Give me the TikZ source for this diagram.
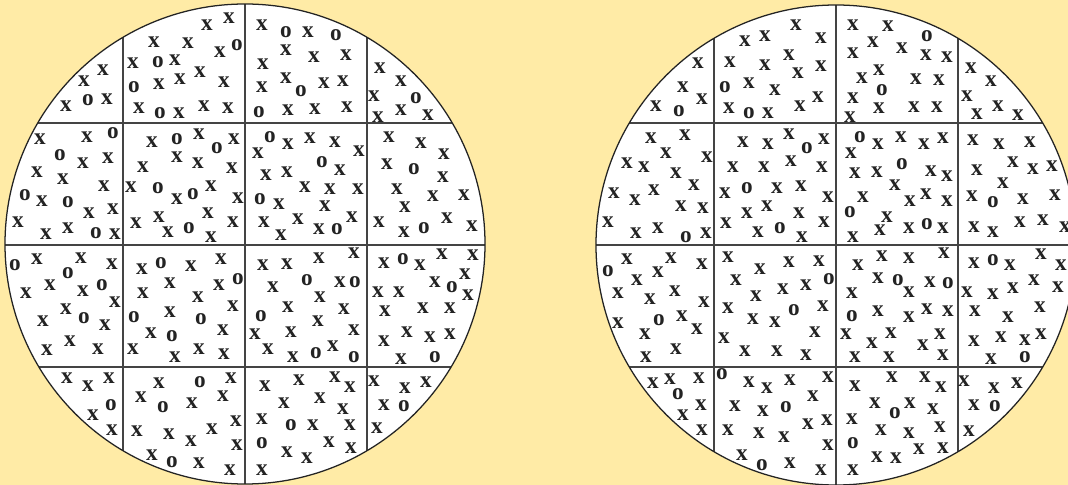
\documentclass[tikz,border=0pt]{standalone}
\usepackage{fontspec}
\setmainfont{Liberation Serif}
\usepackage{xcolor}

\definecolor{paper}{HTML}{FFEBA6}
\definecolor{ink}{HTML}{232323}

\begin{document}
\begin{tikzpicture}[
    x=0.025cm, y=-0.025cm,
    dish/.style={draw=ink, line width=0.9pt},
    gridline/.style={draw=ink!85, line width=1.1pt},
    sym/.style={inner sep=0pt, text=ink, font=\fontsize{16.5}{16.5}\selectfont\bfseries},
]
\fill[paper] (0,0) rectangle (1068,485);
\useasboundingbox (0,0) rectangle (1068,485);

\coordinate (lc) at (245,244);
\coordinate (rc) at (836,245);

% dishes with their 4x4 grids
\foreach \c/\cx in {lc/245, rc/836} {
    \fill[white] (\c) circle[radius=240];
    \begin{scope}
        \clip (\c) circle[radius=240];
        \foreach \d in {-122,0,122} {
            \draw[gridline] (\cx+\d,0) -- (\cx+\d,485);
            \draw[gridline] (\cx-250,245+\d) -- (\cx+250,245+\d);
        }
    \end{scope}
    \draw[dish] (\c) circle[radius=240];
}

% left dish
\foreach \px/\py/\t [count=\k] in {
    103/70/x, 84/81/x, 66/106/x, 88/100/o, 107/99/x,
    207/25/x, 229/18/x, 154/42/x, 188/43/x, 220/52/x, 237/45/o, 133/63/x, 158/62/o, 175/60/x, 200/72/x, 134/87/o, 159/84/x, 180/79/x, 224/82/x, 139/108/x, 160/113/o, 179/113/x, 204/106/x, 228/108/x,
    262/25/x, 286/32/o, 308/32/x, 336/35/o, 286/50/x, 314/57/x, 346/55/x, 263/64/x, 286/78/x, 301/91/o, 324/83/x, 343/81/x, 262/87/x, 259/112/o, 288/110/x, 315/109/x, 347/107/x,
    380/68/x, 401/81/x, 374/96/x, 416/98/o, 401/110/x, 378/117/x, 428/115/x,
    40/139/x, 87/137/x, 113/133/o, 60/155/o, 83/163/x, 108/158/x, 37/172/x, 63/179/x, 104/186/x, 25/195/o, 42/201/x, 68/202/o, 89/213/x, 113/209/x, 18/222/x, 46/234/x, 68/228/x, 96/233/o, 115/234/x,
    152/142/x, 177/139/o, 199/134/x, 217/148/o, 234/139/x, 143/167/x, 177/157/x, 198/163/x, 232/168/x, 131/187/x, 158/188/o, 177/199/x, 193/194/o, 211/186/x, 238/198/x, 136/223/x, 159/217/x, 168/232/x, 189/228/o, 208/213/x, 211/237/x, 233/222/x,
    270/137/o, 258/153/x, 288/144/x, 310/138/x, 335/142/x, 359/151/x, 322/162/o, 340/170/x, 266/175/x, 287/172/x, 305/187/x, 330/189/x, 358/189/x, 260/199/o, 279/204/x, 325/206/x, 264/222/x, 281/235/x, 298/219/x, 319/229/x, 337/229/o, 352/217/x,
    389/137/x, 421/143/x, 444/154/x, 387/164/x, 414/169/o, 443/177/x, 397/189/x, 433/196/x, 464/195/x, 405/207/x, 379/222/x, 404/232/x, 424/228/o, 447/218/x, 472/226/x,
    15/265/o, 37/259/x, 81/258/x, 112/264/x, 68/273/o, 26/293/x, 50/285/x, 83/291/x, 102/285/o, 115/302/x, 66/309/x, 43/321/x, 84/318/o, 105/325/x, 70/341/x, 47/350/x, 98/349/x,
    142/269/x, 161/263/o, 191/266/x, 221/259/x, 238/279/o, 170/283/x, 219/285/x, 143/293/x, 198/297/x, 233/306/x, 134/317/o, 170/312/x, 201/319/o, 223/330/x, 151/333/x, 172/336/o, 133/349/x, 175/357/x, 199/349/x, 224/354/x,
    263/265/x, 287/264/x, 319/258/x, 354/253/x, 273/287/x, 307/280/o, 340/282/x, 355/282/o, 320/297/x, 288/307/x, 344/309/x, 261/316/o, 318/321/x, 255/334/x, 291/332/x, 354/330/x, 268/349/x, 293/357/x, 316/353/o, 333/346/x, 354/357/o,
    384/263/x, 403/259/o, 420/265/x, 442/254/x, 473/255/x, 378/292/x, 399/292/x, 435/282/x, 452/287/o, 465/274/x, 468/295/x, 385/311/x, 423/308/x, 450/308/x, 384/341/x, 407/332/x, 430/337/x, 450/334/x, 401/359/x, 435/357/o,
    67/378/x, 88/386/x, 109/378/x, 93/415/x, 111/405/o, 112/430/x,
    159/383/x, 200/382/o, 231/378/x, 141/397/x, 163/407/o, 192/403/x, 223/396/x, 137/431/x, 169/434/x, 191/441/x, 212/429/x, 236/421/x, 237/445/x, 152/455/x, 172/462/o, 199/463/x, 230/470/x,
    265/386/x, 299/380/x, 335/377/x, 350/387/x, 284/403/x, 320/398/x, 343/409/x, 262/419/x, 291/425/o, 313/425/x, 350/425/x, 262/443/o, 287/452/x, 307/458/x, 329/442/x, 351/448/x, 262/470/x,
    374/381/x, 405/388/x, 426/382/x, 384/405/x, 404/406/o, 377/428/x}
    \node[sym] (a\k) at (\px,\py) {\t};

% right dish
\foreach \px/\py/\t [count=\k] in {
    698/63/x, 683/87/x, 656/106/x, 679/111/o, 702/99/x,
    745/41/x, 765/36/x, 796/25/x, 821/38/x, 730/62/x, 765/65/x, 789/55/x, 798/73/x, 821/66/x, 725/87/o, 749/83/x, 775/90/x, 729/108/x, 749/113/o, 768/113/x, 800/106/x, 818/97/x,
    853/25/x, 888/26/x, 927/36/o, 873/42/x, 902/48/x, 853/53/x, 926/55/x, 947/57/x, 862/78/x, 879/70/x, 916/79/x, 939/80/x, 853/98/x, 882/90/o, 850/117/x, 879/108/x, 914/107/x, 937/107/x,
    971/68/x, 991/81/x, 967/96/x, 977/114/x, 998/106/x, 1018/115/x,
    651/138/x, 685/135/x, 666/153/x, 707/157/x, 627/163/x, 644/167/x, 676/173/x, 694/185/x, 614/193/x, 635/200/x, 654/190/x, 681/206/x, 703/208/x, 608/222/x, 636/233/x, 658/228/x, 686/237/o, 706/233/x,
    743/142/x, 768/144/x, 789/134/x, 807/148/o, 824/139/x, 733/167/x, 764/167/x, 791/161/x, 822/167/x, 725/193/x, 747/188/o, 777/188/x, 801/186/x, 828/197/x, 726/223/x, 747/213/x, 767/206/x, 799/213/x, 824/222/x, 758/232/x, 780/228/o, 802/237/x,
    860/137/o, 851/153/x, 878/144/x, 901/137/x, 924/144/x, 943/138/x, 855/173/x, 877/172/x, 902/164/o, 931/171/x, 947/176/x, 895/185/x, 863/197/x, 910/201/x, 926/194/x, 947/201/x, 850/212/o, 887/217/x, 853/237/x, 880/230/x, 909/228/x, 927/224/o, 943/228/x,
    973/140/x, 999/144/x, 1030/142/x, 977/170/x, 1013/162/x, 1033/169/x, 1052/166/x, 1003/183/x, 972/196/x, 993/202/o, 1023/199/x, 1055/195/x, 974/227/x, 993/232/x, 1020/222/x, 1043/220/x, 1065/227/x,
    608/271/o, 627/259/x, 671/258/x, 702/264/x, 637/280/x, 658/272/x, 618/293/x, 650/299/x, 675/291/x, 704/302/x, 618/323/x, 645/334/x, 659/320/o, 682/316/x, 697/329/x, 646/357/x, 676/349/x,
    728/257/x, 760/269/x, 789/262/x, 819/261/x, 829/279/o, 736/280/x, 783/289/x, 806/285/x, 756/296/x, 728/308/x, 753/319/x, 775/322/x, 794/310/o, 823/306/x, 724/338/x, 815/332/x, 745/351/x, 777/351/x, 806/355/x,
    858/265/x, 882/256/x, 909/258/x, 944/253/x, 878/278/x, 898/280/o, 930/282/x, 948/283/o, 852/293/x, 909/292/x, 852/316/o, 878/311/x, 909/317/x, 927/309/x, 948/311/x, 846/334/x, 872/343/x, 891/333/x, 923/345/x, 940/334/x, 855/357/x, 889/357/x, 943/355/x,
    974/263/x, 993/260/o, 1010/265/x, 1041/254/x, 1061/265/x, 967/292/x, 993/294/x, 1013/288/x, 1034/280/x, 1058/287/x, 975/311/x, 1008/317/x, 1040/307/x, 974/341/x, 1001/337/x, 1025/340/x, 1041/334/x, 991/359/x, 1025/357/o,
    653/383/x, 670/379/x, 699/378/x, 678/394/o, 701/405/x, 683/415/x, 702/430/x,
    722/374/o, 749/382/x, 767/388/x, 790/380/x, 828/377/x, 813/396/x, 735/406/x, 763/411/x, 786/407/o, 808/424/x, 827/420/x, 728/430/x, 759/433/x, 784/437/x, 828/445/x, 742/455/x, 762/465/o, 790/463/x, 821/470/x,
    855/386/x, 892/377/x, 925/377/x, 941/387/x, 875/403/x, 895/413/o, 910/403/x, 933/409/x, 852/419/x, 881/430/x, 909/433/x, 940/427/x, 853/443/o, 877/457/x, 896/458/x, 919/449/x, 943/448/x, 853/470/x,
    964/381/x, 994/388/x, 1017/383/x, 974/405/x, 995/406/o, 969/431/x}
    \node[sym] (b\k) at (\px,\py) {\t};
\end{tikzpicture}
\end{document}
